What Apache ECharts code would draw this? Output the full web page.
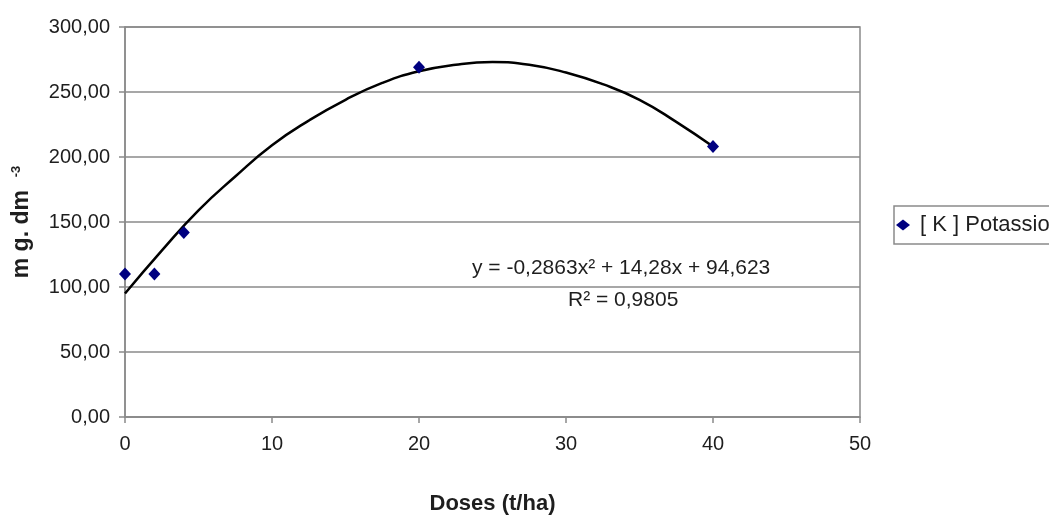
<!DOCTYPE html>
<html>
<head>
<meta charset="utf-8">
<script src="https://cdn.jsdelivr.net/npm/echarts@6/dist/echarts.min.js"></script>
<style>
  html, body { margin: 0; padding: 0; background: #fff; }
  #chart { width: 1049px; height: 516px; }
</style>
</head>
<body>
<div id="chart"></div>
<script>
// measured points: dose (t/ha) -> K (mg.dm-3)
const doses = [0, 2, 4, 20, 40];
const potassium = [110, 110, 142, 269, 208];

// trendline
const trendX = [0, 2.5, 5, 7.5, 10, 12.5, 15, 17.5, 20, 22.5, 25, 27.5, 30, 32.5, 35, 37.5, 40];
const trendY = [95, 128, 159, 185, 209, 228, 244, 257, 266, 271, 273, 271, 265, 256, 244, 227, 208];

const seriesName = "[ K ] Potassio";
const equationText = "y = -0,2863x² + 14,28x + 94,623";
const r2Text = "R² = 0,9805";

const chart = echarts.init(document.getElementById("chart"));
const font = "Liberation Sans, Arial, sans-serif";
const gray = "#8a8a8a";
const ink = "#1e1e1e";

chart.setOption({
  backgroundColor: "#fff",
  animation: false,
  textStyle: { fontFamily: font },
  grid: {
    left: 125,
    right: 189,
    top: 27,
    bottom: 99,
    outerBoundsMode: "none",
    show: true,
    borderColor: gray,
    borderWidth: 1.5,
  },
  legend: {
    data: [seriesName],
    left: 894,
    top: 206,
    orient: "vertical",
    padding: [8, 10, 8, 2],
    borderColor: gray,
    borderWidth: 1.5,
    icon: "diamond",
    itemWidth: 14,
    itemHeight: 11,
    itemGap: 4,
    textStyle: { fontSize: 22, color: ink, fontFamily: font, padding: [0, 0, 0, 5] },
  },
  xAxis: {
    type: "value",
    min: 0,
    max: 50,
    interval: 10,
    name: "Doses (t/ha)",
    nameLocation: "middle",
    nameGap: 76,
    nameTextStyle: { fontSize: 22, fontWeight: "bold", color: ink },
    axisLine: { show: true, lineStyle: { color: gray, width: 1.5 } },
    axisTick: { show: true, length: 6, lineStyle: { color: gray, width: 1.5 } },
    axisLabel: { fontSize: 20, color: ink, margin: 17 },
    splitLine: { show: false },
  },
  yAxis: {
    type: "value",
    min: 0,
    max: 300,
    interval: 50,
    name: "{a|m g. dm  }{b|-3}",
    nameLocation: "middle",
    nameGap: 92,
    nameTextStyle: {
      rich: {
        a: { fontSize: 23, fontWeight: "bold", color: ink, fontFamily: font },
        b: { fontSize: 13, fontWeight: "bold", color: ink, fontFamily: font, verticalAlign: "top", padding: [0, 0, 10, 0] },
      },
    },
    axisLine: { show: true, lineStyle: { color: gray, width: 1.5 } },
    axisTick: { show: true, length: 6, lineStyle: { color: gray, width: 1.5 } },
    axisLabel: {
      fontSize: 20,
      color: ink,
      margin: 15,
      formatter: (v) => v.toFixed(2).replace(".", ","),
    },
    splitLine: { show: true, lineStyle: { color: gray, width: 1.5 } },
  },
  series: [
    {
      name: "trend",
      type: "line",
      data: trendX.map((x, i) => [x, trendY[i]]),
      smooth: true,
      showSymbol: false,
      lineStyle: { color: "#000", width: 2.5 },
      silent: true,
      z: 2,
    },
    {
      name: seriesName,
      type: "scatter",
      data: doses.map((d, i) => [d, potassium[i]]),
      symbol: "diamond",
      symbolSize: [12, 13],
      itemStyle: { color: "#000080", opacity: 1 },
      z: 3,
    },
  ],
  graphic: [
    {
      type: "text",
      left: 472,
      top: 258,
      style: { text: equationText, fontSize: 21, fill: ink, fontFamily: font },
    },
    {
      type: "text",
      left: 568,
      top: 290,
      style: { text: r2Text, fontSize: 21, fill: ink, fontFamily: font },
    },
  ],
});
</script>
</body>
</html>
